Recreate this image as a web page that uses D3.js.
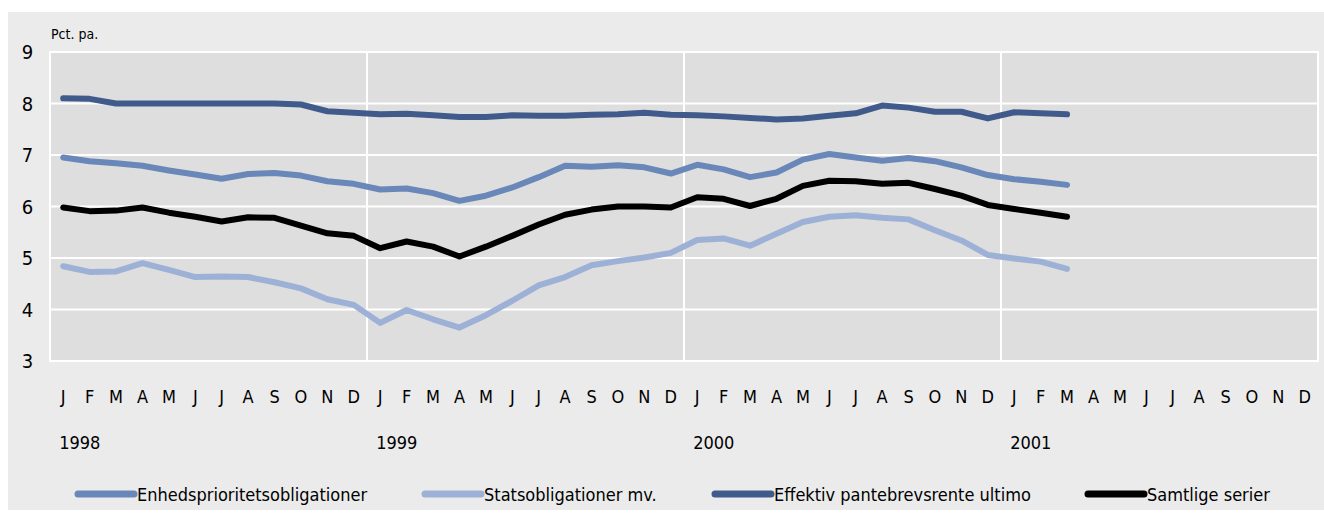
<!DOCTYPE html>
<html><head><meta charset="utf-8">
<script src="https://cdn.jsdelivr.net/npm/d3@7"></script>
<style>
html,body{margin:0;padding:0;background:#fff;}
text{font-family:"Liberation Sans Narrow","Arial Narrow","DejaVu Sans Condensed",sans-serif;fill:#000;}
</style></head>
<body>
<svg id="chart" width="1324" height="513"></svg>
<script>
const monthLabels = ["J","F","M","A","M","J","J","A","S","O","N","D"];
const years = ["1998","1999","2000","2001"];
const yTicks = [3,4,5,6,7,8,9];
const seriesNames = ["Enhedsprioritetsobligationer","Statsobligationer mv.","Effektiv pantebrevsrente ultimo","Samtlige serier"];
const seriesColors = ["#6a87b9","#9db1d7","#405b8b","#000000"];

const enhed = [6.95,6.88,6.84,6.79,6.70,6.62,6.54,6.63,6.65,6.60,6.49,6.44,
               6.33,6.35,6.26,6.11,6.21,6.37,6.57,6.79,6.77,6.80,6.76,6.64,
               6.81,6.72,6.57,6.66,6.91,7.02,6.95,6.89,6.94,6.88,6.76,6.61,
               6.53,6.48,6.42];
const stats = [4.84,4.73,4.74,4.90,4.77,4.63,4.64,4.63,4.53,4.41,4.20,4.09,
               3.74,3.99,3.81,3.65,3.89,4.17,4.47,4.63,4.86,4.94,5.01,5.10,
               5.35,5.38,5.24,5.47,5.70,5.80,5.83,5.78,5.75,5.54,5.34,5.06,
               4.99,4.93,4.79];
const effektiv = [8.10,8.09,8.00,8.00,8.00,8.00,8.00,8.00,8.00,7.98,7.85,7.82,
                  7.79,7.80,7.77,7.74,7.74,7.77,7.76,7.76,7.78,7.79,7.82,7.78,
                  7.77,7.75,7.72,7.69,7.71,7.76,7.81,7.96,7.92,7.84,7.84,7.71,
                  7.83,7.81,7.79];
const samtlige = [5.98,5.91,5.92,5.98,5.88,5.80,5.71,5.79,5.78,5.63,5.48,5.43,
                  5.19,5.32,5.22,5.03,5.22,5.43,5.65,5.84,5.94,6.00,6.00,5.98,
                  6.18,6.15,6.01,6.15,6.40,6.50,6.49,6.44,6.46,6.34,6.21,6.03,
                  5.95,5.88,5.80];
const allSeries = [enhed, stats, effektiv, samtlige];

const svg = d3.select("#chart");
const L = 50, R = 1318, T = 52, B = 361;
const nMonths = 48;

svg.append("rect").attr("x",8).attr("y",12).attr("width",1316).attr("height",498).attr("fill","#ebebeb");

const x = d3.scaleBand().domain(d3.range(nMonths)).range([L,R]).padding(0);
const y = d3.scaleLinear().domain([3,9]).range([B,T]);

svg.append("rect").attr("x",L).attr("y",T).attr("width",R-L).attr("height",B-T)
  .attr("fill","#dedede").attr("stroke","#fff").attr("stroke-width",2);

svg.append("g").selectAll("line").data(yTicks).join("line")
  .attr("x1",L).attr("x2",R).attr("y1",d=>y(d)).attr("y2",d=>y(d))
  .attr("stroke","#fff").attr("stroke-width",2);
svg.append("g").selectAll("line").data([12,24,36]).join("line")
  .attr("x1",d=>x(d)).attr("x2",d=>x(d)).attr("y1",T).attr("y2",B)
  .attr("stroke","#fff").attr("stroke-width",2);

svg.append("g").selectAll("text").data(yTicks).join("text")
  .attr("x",27.5).attr("y",d=>y(d)+7).attr("text-anchor","middle")
  .attr("font-size",20).text(d=>d);

svg.append("text").attr("x",51).attr("y",39).attr("font-size",14).text("Pct. pa.");

svg.append("g").selectAll("text").data(d3.range(nMonths)).join("text")
  .attr("x",d=>x(d)+x.bandwidth()/2).attr("y",403).attr("text-anchor","middle")
  .attr("font-size",18).text(d=>monthLabels[d%12]);

svg.append("g").selectAll("text").data(years).join("text")
  .attr("x",(d,i)=>x(i*12)+x.bandwidth()/2-4).attr("y",449)
  .attr("font-size",18).text(d=>d);

const line = d3.line().x((d,i)=>x(i)+x.bandwidth()/2).y(d=>y(d));
svg.append("g").selectAll("path").data(allSeries).join("path")
  .attr("d",line).attr("fill","none")
  .attr("stroke",(d,i)=>seriesColors[i]).attr("stroke-width",6)
  .attr("stroke-linejoin","round").attr("stroke-linecap","round");

const legX = [78,425,715,1088];
const lg = svg.append("g").selectAll("g").data(seriesNames).join("g")
  .attr("transform",(d,i)=>`translate(${legX[i]},494)`);
lg.append("line").attr("x1",0).attr("x2",56).attr("y1",0).attr("y2",0)
  .attr("stroke",(d,i)=>seriesColors[i]).attr("stroke-width",7).attr("stroke-linecap","round");
lg.append("text").attr("x",59).attr("y",7).attr("font-size",18).text(d=>d);
</script>
</body></html>
